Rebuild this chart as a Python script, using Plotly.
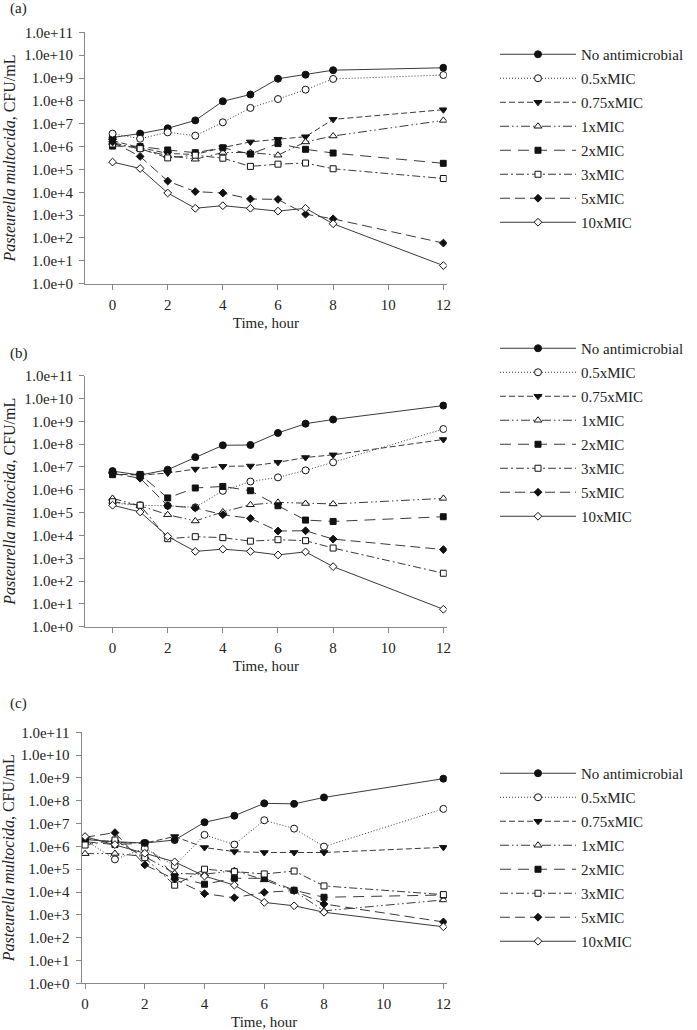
import plotly.graph_objects as go

W, H = 697, 1030

hours = [0, 1, 2, 3, 4, 5, 6, 7, 8, 12]
series_names = ["No antimicrobial", "0.5xMIC", "0.75xMIC", "1xMIC", "2xMIC", "3xMIC", "5xMIC", "10xMIC"]

# Panel (a)
a_none = [2.5e6, 3.7e6, 6.3e6, 1.4e7, 9.6e7, 1.9e8, 9.3e8, 1.4e9, 2.2e9, 2.8e9]
a_05 = [3.7e6, 2.2e6, 4.2e6, 3.0e6, 1.15e7, 4.9e7, 1.2e8, 3.1e8, 9.1e8, 1.35e9]
a_075 = [1.8e6, 9.0e5, 5.0e5, 4.5e5, 9.0e5, 1.6e6, 2.1e6, 2.7e6, 1.55e7, 4.1e7]
a_1 = [1.5e6, 8.0e5, 4.0e5, 2.8e5, 5.5e5, 5.5e5, 4.2e5, 1.6e6, 2.9e6, 1.4e7]
a_2 = [1.05e6, 1.0e6, 7.1e5, 5.4e5, 8.9e5, 4.7e5, 1.35e6, 7.6e5, 5.2e5, 1.85e5]
a_3 = [1.3e6, 8.1e5, 3.2e5, 4.2e5, 3.1e5, 1.36e5, 1.7e5, 1.9e5, 1.07e5, 4.0e4]
a_5 = [1.6e6, 3.7e5, 3.1e4, 1.07e4, 9.3e3, 5.1e3, 4.9e3, 1.1e3, 6.9e2, 60]
a_10 = [2.1e5, 1.1e5, 9.3e3, 2.0e3, 2.6e3, 2.0e3, 1.5e3, 2.0e3, 4.2e2, 6.2]

# Panel (b)
b_none = [6.6e6, 4.4e6, 7.6e6, 2.7e7, 8.9e7, 9.2e7, 3.1e8, 7.9e8, 1.2e9, 4.9e9]
b_05 = [2.6e5, 2.1e5, 2.0e5, 1.7e5, 9.0e5, 2.3e6, 3.5e6, 7.1e6, 1.6e7, 4.6e8]
b_075 = [4.9e6, 4.4e6, 5.4e6, 8.1e6, 1.07e7, 1.1e7, 1.6e7, 2.6e7, 3.4e7, 1.6e8]
b_1 = [4.2e5, 2.0e5, 8.1e4, 4.3e4, 1.07e5, 2.2e5, 2.8e5, 2.5e5, 2.4e5, 4.2e5]
b_2 = [4.6e6, 4.7e6, 4.4e5, 1.2e6, 1.4e6, 9.1e5, 2.0e5, 4.7e4, 4.1e4, 6.6e4]
b_3 = [3.0e5, 2.1e5, 7.2e3, 8.8e3, 8.0e3, 5.6e3, 6.5e3, 5.9e3, 2.8e3, 2.2e2]
b_5 = [5.2e6, 3.2e6, 2.0e5, 1.6e5, 8.1e4, 5.6e4, 1.56e4, 1.6e4, 6.9e3, 2.4e3]
b_10 = [2.1e5, 1.07e5, 9.1e3, 2.0e3, 2.5e3, 2.0e3, 1.4e3, 1.9e3, 4.3e2, 5.8]

# Panel (c)
c_none = [2.0e6, 1.6e6, 1.4e6, 1.9e6, 1.14e7, 2.2e7, 7.7e7, 7.3e7, 1.4e8, 9.3e8]
c_05 = [1.9e6, 2.7e5, 8.3e5, 1.4e5, 3.2e6, 1.2e6, 1.4e7, 6.0e6, 9.8e5, 4.4e7]
c_075 = [2.2e6, 1.5e6, 1.4e6, 2.7e6, 8.9e5, 5.9e5, 5.4e5, 5.4e5, 5.4e5, 9.1e5]
c_1 = [4.8e5, 4.9e5, 3.6e5, 6.6e4, 6.0e4, 8.7e4, 3.4e4, 1.1e4, 1.5e3, 4.5e3]
c_2 = [1.6e6, 1.2e6, 1.4e6, 4.7e4, 2.2e4, 4.0e4, 4.0e4, 1.2e4, 5.9e3, 7.4e3]
c_3 = [1.15e6, 1.9e6, 3.2e5, 2.0e4, 1.0e5, 7.8e4, 6.2e4, 8.3e4, 1.85e4, 7.7e3]
c_5 = [2.5e6, 4.0e6, 1.55e5, 3.7e4, 8.5e3, 5.6e3, 9.7e3, 1.15e4, 3.0e3, 4.9e2]
c_10 = [2.7e6, 1.2e6, 5.0e5, 2.1e5, 5.0e4, 2.0e4, 3.5e3, 2.5e3, 1.3e3, 3.0e2]

y_tickvals = [1e0, 1e1, 1e2, 1e3, 1e4, 1e5, 1e6, 1e7, 1e8, 1e9, 1e10, 1e11]
y_ticktext = ["1.0e+0", "1.0e+1", "1.0e+2", "1.0e+3", "1.0e+4", "1.0e+5",
              "1.0e+6", "1.0e+7", "1.0e+8", "1.0e+9", "1.0e+10", "1.0e+11"]
x_tickvals = [0, 2, 4, 6, 8, 10, 12]
panel_labels = ["(a)", "(b)", "(c)"]

panels = [
    [a_none, a_05, a_075, a_1, a_2, a_3, a_5, a_10],
    [b_none, b_05, b_075, b_1, b_2, b_3, b_5, b_10],
    [c_none, c_05, c_075, c_1, c_2, c_3, c_5, c_10],
]

FONT = "Liberation Serif, Times New Roman, serif"
LINE = "#3a3a3a"
styles = [
    dict(dash="solid", symbol="circle", fill="#111111", size=7),
    dict(dash="1px,2px", symbol="circle", fill="white", size=7),
    dict(dash="6px,3px", symbol="triangle-down", fill="#111111", size=7),
    dict(dash="9px,3px,1.5px,3px,1.5px,3px", symbol="triangle-up", fill="white", size=7),
    dict(dash="11px,7px", symbol="square", fill="#111111", size=6),
    dict(dash="8px,3px,2px,3px", symbol="square", fill="white", size=6),
    dict(dash="10px,5px", symbol="diamond", fill="#111111", size=6),
    dict(dash="solid", symbol="diamond", fill="white", size=6),
]

fig = go.Figure()

def px_x(p):
    return p / W

def px_y(p):
    return 1 - p / H

# pixel geometry of the three plot areas (top, bottom)
areas = [(32.3, 283.7), (375.7, 626.7), (732.3, 983.3)]
xdomains = [(85, 446.7), (85, 446.7), (81.5, 446.7)]
xranges = [[-1, 12.12], [-1, 12.12], [-0.12, 12.11]]
legend_tops = [38, 332, 757]

for pi, data in enumerate(panels):
    suffix = "" if pi == 0 else str(pi + 1)
    lg = "legend" if pi == 0 else "legend" + str(pi + 1)
    for si, vals in enumerate(data):
        st = styles[si]
        fig.add_trace(go.Scatter(
            x=hours, y=vals, name=series_names[si],
            mode="lines+markers",
            xaxis="x" + suffix, yaxis="y" + suffix,
            legend=lg, legendgroup=f"p{pi}s{si}",
            line=dict(color=LINE, width=1, dash=st["dash"]),
            marker=dict(symbol=st["symbol"], size=st["size"], color=st["fill"],
                        line=dict(color="#111111", width=1)),
        ))
    top, bot = areas[pi]
    fig.update_layout(**{
        "xaxis" + suffix: dict(
            domain=[px_x(xdomains[pi][0]), px_x(xdomains[pi][1])],
            anchor="y" + suffix, range=xranges[pi], automargin=False,
            tickvals=x_tickvals, ticks="outside", ticklen=5, tickcolor="#888",
            ticklabelstandoff=2,
            showline=True, linecolor="#888", linewidth=1, showgrid=False, zeroline=False,
            tickfont=dict(family=FONT, size=15, color="#222"),
            title=dict(text="Time, hour", font=dict(family=FONT, size=15, color="#222"), standoff=5),
        ),
        "yaxis" + suffix: dict(
            domain=[px_y(bot), px_y(top)], anchor="x" + suffix, automargin=False,
            type="log", range=[0, 11],
            tickvals=y_tickvals, ticktext=y_ticktext,
            ticks="outside", ticklen=5, tickcolor="#888",
            ticklabelstandoff=3,
            showline=True, linecolor="#888", linewidth=1, showgrid=False, zeroline=False,
            tickfont=dict(family=FONT, size=15, color="#222"),
            title=dict(text="<i>Pasteurella multocida</i>, CFU/mL",
                       font=dict(family=FONT, size=16, color="#222"), standoff=4),
        ),
        lg: dict(
            x=px_x(495), y=px_y(legend_tops[pi]), xanchor="left", yanchor="top",
            font=dict(family=FONT, size=15, color="#222"),
            bgcolor="rgba(0,0,0,0)", itemwidth=76, tracegroupgap=1.5,
            itemclick=False, itemdoubleclick=False,
        ),
    })

annotations = []
for pi, lab in enumerate(panel_labels):
    cy = [8, 353, 703][pi]
    annotations.append(dict(text=lab, x=px_x(8), y=px_y(cy), xref="paper", yref="paper",
                            xanchor="left", yanchor="middle", showarrow=False,
                            font=dict(family=FONT, size=15, color="#222")))

fig.update_layout(
    width=W, height=H, margin=dict(l=0, r=0, t=0, b=0, autoexpand=False),
    paper_bgcolor="white", plot_bgcolor="white",
    annotations=annotations, showlegend=True, hovermode=False,
)

fig.write_html("out.html", config={"displayModeBar": False, "staticPlot": True},
               post_script="document.body.style.margin='0';")
